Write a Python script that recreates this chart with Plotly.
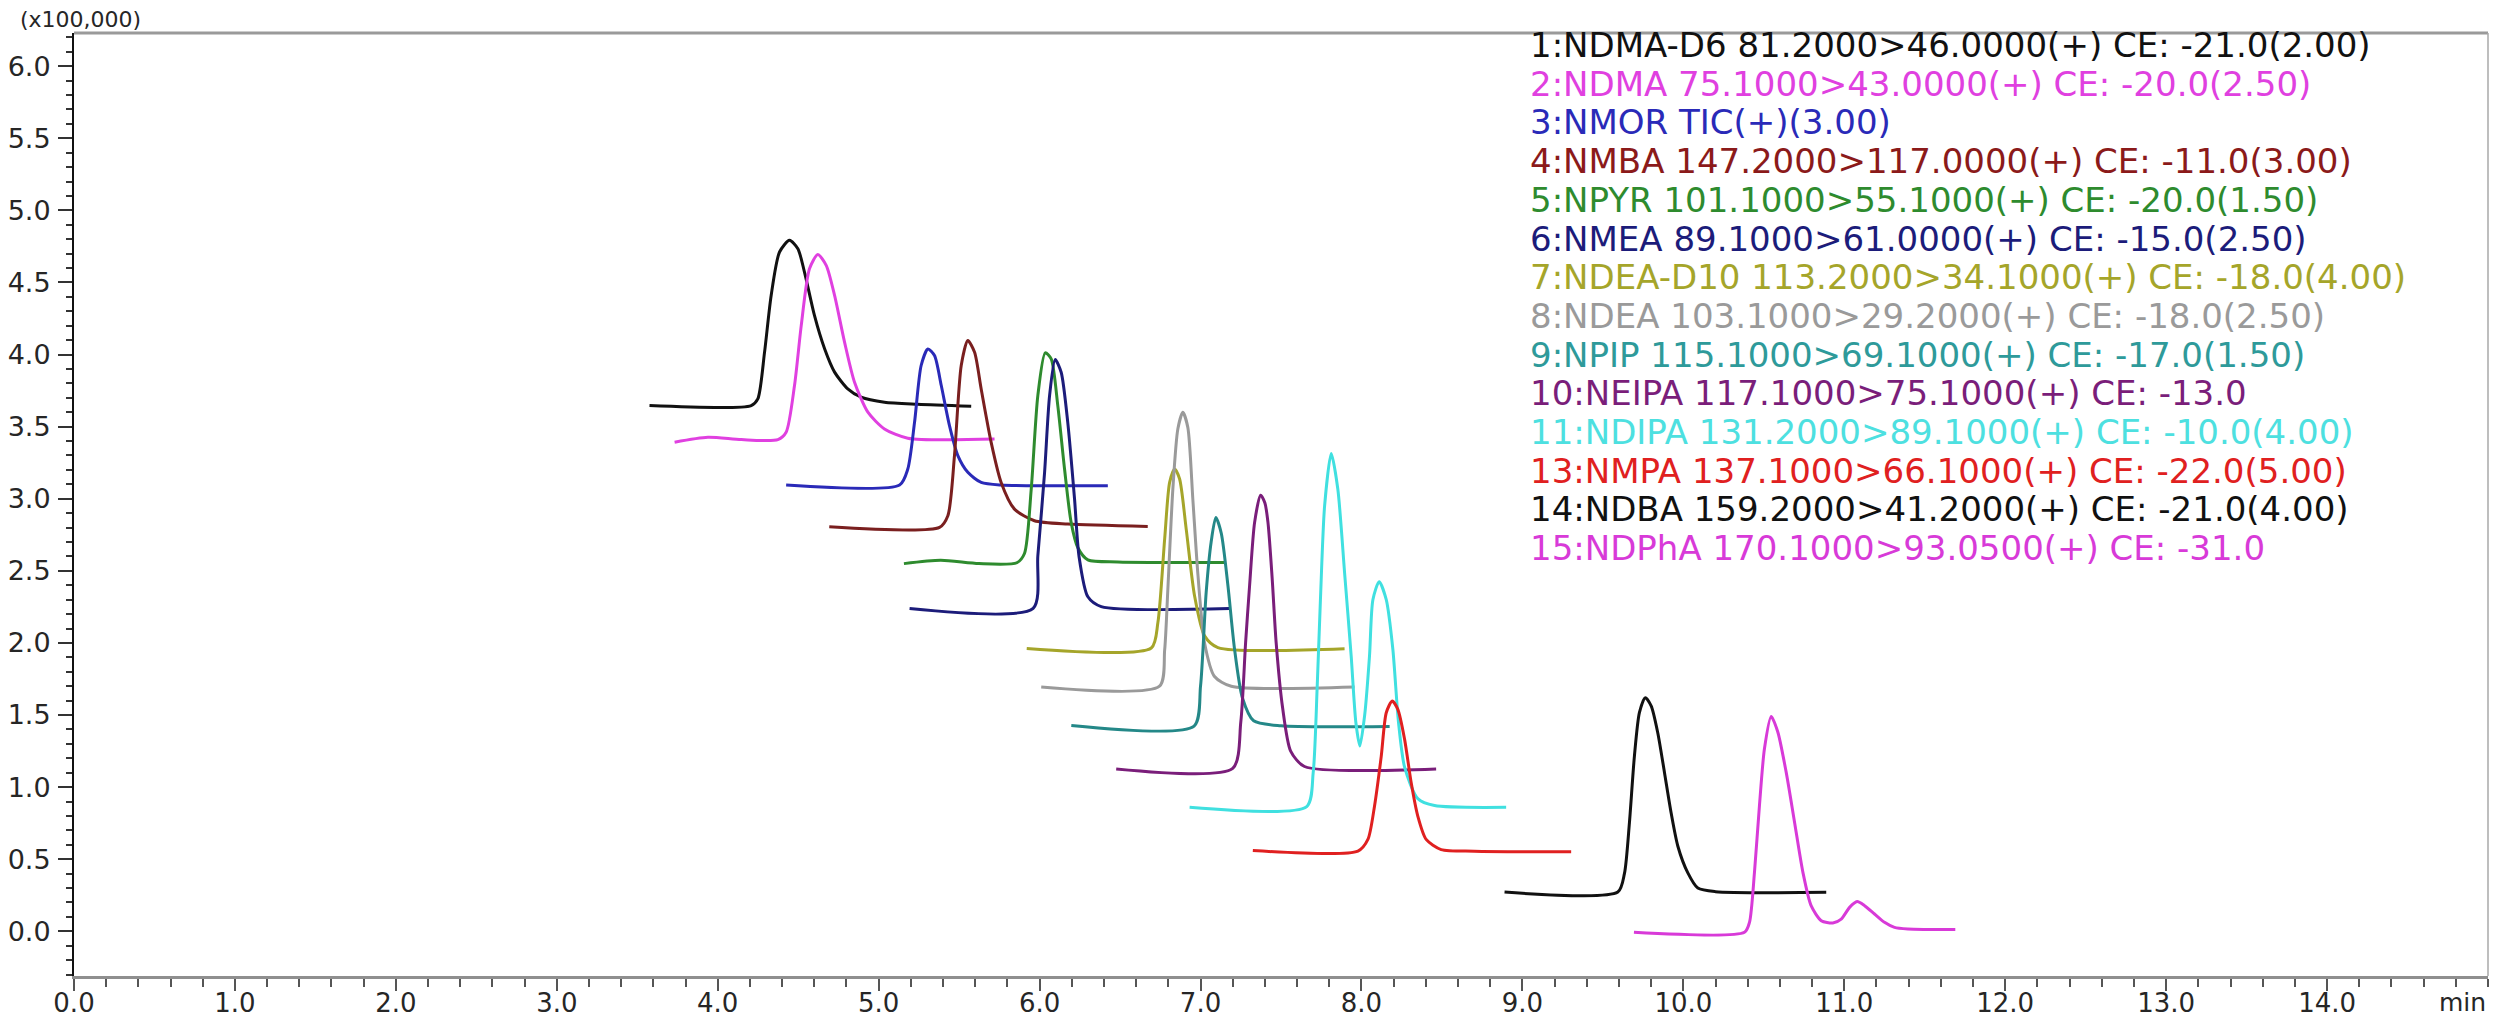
import plotly.graph_objects as go

# ---- data: retention time (min) and intensity (x100,000) ----
ndma_d6_t = [3.576, 4.208, 4.249, 4.291, 4.332, 4.384, 4.446, 4.498, 4.539, 4.601, 4.664, 4.726, 4.808, 4.891, 5.036, 5.243, 5.575]
ndma_d6_i = [3.646, 3.646, 3.692, 4.017, 4.410, 4.711, 4.792, 4.734, 4.572, 4.271, 4.040, 3.878, 3.762, 3.704, 3.669, 3.655, 3.641]

ndma_t = [3.732, 3.939, 4.146, 4.374, 4.425, 4.477, 4.519, 4.570, 4.622, 4.674, 4.726, 4.788, 4.850, 4.933, 5.036, 5.181, 5.720]
ndma_i = [3.392, 3.426, 3.410, 3.410, 3.461, 3.785, 4.202, 4.595, 4.693, 4.618, 4.410, 4.086, 3.808, 3.600, 3.484, 3.420, 3.414]

nmor_t = [4.425, 5.130, 5.181, 5.223, 5.264, 5.306, 5.347, 5.389, 5.440, 5.492, 5.554, 5.637, 5.761, 6.424]
nmor_i = [3.095, 3.095, 3.206, 3.530, 3.924, 4.039, 3.993, 3.785, 3.507, 3.299, 3.183, 3.113, 3.095, 3.090]

nmba_t = [4.693, 5.378, 5.430, 5.471, 5.513, 5.554, 5.596, 5.637, 5.699, 5.761, 5.844, 5.968, 6.175, 6.672]
nmba_i = [2.805, 2.801, 2.882, 3.299, 3.924, 4.097, 4.016, 3.761, 3.391, 3.113, 2.928, 2.847, 2.824, 2.808]

npyr_t = [5.157, 5.385, 5.623, 5.859, 5.906, 5.948, 5.989, 6.035, 6.072, 6.113, 6.155, 6.196, 6.238, 6.300, 6.487, 7.149]
npyr_i = [2.550, 2.573, 2.550, 2.556, 2.620, 3.067, 3.715, 4.012, 3.970, 3.646, 3.206, 2.836, 2.660, 2.576, 2.562, 2.558]

nmea_t = [5.192, 5.960, 5.989, 6.031, 6.062, 6.097, 6.134, 6.175, 6.217, 6.245, 6.300, 6.383, 7.180]
nmea_i = [2.238, 2.240, 2.604, 3.183, 3.715, 3.965, 3.877, 3.530, 3.000, 2.600, 2.320, 2.252, 2.238]

ndea_d10_t = [5.920, 6.694, 6.735, 6.777, 6.808, 6.839, 6.870, 6.911, 6.963, 7.025, 7.108, 7.895]
ndea_d10_i = [1.962, 1.965, 2.141, 2.720, 3.113, 3.206, 3.137, 2.789, 2.326, 2.049, 1.968, 1.960]

ndea_t = [6.010, 6.745, 6.777, 6.797, 6.828, 6.859, 6.890, 6.921, 6.952, 6.984, 7.025, 7.087, 7.191, 7.957]
ndea_i = [1.694, 1.700, 1.950, 2.373, 3.067, 3.484, 3.599, 3.495, 3.000, 2.470, 2.000, 1.767, 1.699, 1.694]

npip_t = [6.197, 6.960, 7.000, 7.035, 7.066, 7.095, 7.129, 7.170, 7.211, 7.260, 7.330, 7.500, 8.175]
npip_i = [1.428, 1.423, 1.700, 2.350, 2.700, 2.870, 2.760, 2.400, 1.960, 1.620, 1.460, 1.425, 1.421]

neipa_t = [6.476, 7.200, 7.250, 7.280, 7.305, 7.336, 7.373, 7.400, 7.419, 7.445, 7.470, 7.510, 7.560, 7.646, 8.464]
neipa_i = [1.126, 1.130, 1.450, 2.000, 2.400, 2.836, 3.025, 2.970, 2.836, 2.450, 2.000, 1.550, 1.250, 1.143, 1.126]

ndipa_t = [6.932, 7.660, 7.700, 7.725, 7.745, 7.771, 7.812, 7.853, 7.895, 7.936, 7.965, 7.990, 8.020, 8.050, 8.071, 8.110, 8.154, 8.195, 8.230, 8.268, 8.350, 8.454, 8.899]
ndipa_i = [0.860, 0.865, 1.100, 1.700, 2.300, 2.951, 3.313, 3.067, 2.488, 1.910, 1.450, 1.285, 1.500, 1.910, 2.300, 2.425, 2.300, 1.956, 1.450, 1.138, 0.920, 0.872, 0.860]

nmpa_t = [7.325, 7.978, 8.040, 8.081, 8.123, 8.154, 8.191, 8.226, 8.268, 8.309, 8.350, 8.402, 8.495, 8.702, 9.303]
nmpa_i = [0.560, 0.556, 0.637, 0.868, 1.215, 1.516, 1.597, 1.539, 1.331, 1.030, 0.799, 0.637, 0.567, 0.556, 0.551]

ndba_t = [8.889, 9.593, 9.634, 9.665, 9.696, 9.727, 9.763, 9.800, 9.841, 9.883, 9.924, 9.966, 10.028, 10.090, 10.200, 10.888]
ndba_i = [0.272, 0.272, 0.400, 0.752, 1.215, 1.516, 1.620, 1.563, 1.377, 1.100, 0.822, 0.590, 0.405, 0.300, 0.275, 0.270]

ndpha_t = [9.693, 10.380, 10.411, 10.442, 10.473, 10.504, 10.546, 10.587, 10.639, 10.691, 10.743, 10.794, 10.857, 10.929, 10.981, 11.033, 11.080, 11.126, 11.188, 11.250, 11.312, 11.395, 11.690]
ndpha_i = [-0.007, -0.007, 0.062, 0.409, 0.872, 1.266, 1.490, 1.382, 1.104, 0.757, 0.409, 0.178, 0.074, 0.058, 0.085, 0.166, 0.206, 0.178, 0.120, 0.062, 0.027, 0.016, 0.012]

channel_labels = [
    "1:NDMA-D6 81.2000>46.0000(+) CE: -21.0(2.00)",
    "2:NDMA 75.1000>43.0000(+) CE: -20.0(2.50)",
    "3:NMOR TIC(+)(3.00)",
    "4:NMBA 147.2000>117.0000(+) CE: -11.0(3.00)",
    "5:NPYR 101.1000>55.1000(+) CE: -20.0(1.50)",
    "6:NMEA 89.1000>61.0000(+) CE: -15.0(2.50)",
    "7:NDEA-D10 113.2000>34.1000(+) CE: -18.0(4.00)",
    "8:NDEA 103.1000>29.2000(+) CE: -18.0(2.50)",
    "9:NPIP 115.1000>69.1000(+) CE: -17.0(1.50)",
    "10:NEIPA 117.1000>75.1000(+) CE: -13.0",
    "11:NDIPA 131.2000>89.1000(+) CE: -10.0(4.00)",
    "13:NMPA 137.1000>66.1000(+) CE: -22.0(5.00)",
    "14:NDBA 159.2000>41.2000(+) CE: -21.0(4.00)",
    "15:NDPhA 170.1000>93.0500(+) CE: -31.0",
]

x_tick_vals = [0, 1, 2, 3, 4, 5, 6, 7, 8, 9, 10, 11, 12, 13, 14]
x_tick_text = ["0.0", "1.0", "2.0", "3.0", "4.0", "5.0", "6.0", "7.0", "8.0", "9.0", "10.0", "11.0", "12.0", "13.0", "14.0"]
y_tick_vals = [0.0, 0.5, 1.0, 1.5, 2.0, 2.5, 3.0, 3.5, 4.0, 4.5, 5.0, 5.5, 6.0]
y_tick_text = ["0.0", "0.5", "1.0", "1.5", "2.0", "2.5", "3.0", "3.5", "4.0", "4.5", "5.0", "5.5", "6.0"]

series = [
    (ndma_d6_t, ndma_d6_i), (ndma_t, ndma_i), (nmor_t, nmor_i), (nmba_t, nmba_i),
    (npyr_t, npyr_i), (nmea_t, nmea_i), (ndea_d10_t, ndea_d10_i), (ndea_t, ndea_i),
    (npip_t, npip_i), (neipa_t, neipa_i), (ndipa_t, ndipa_i), (nmpa_t, nmpa_i),
    (ndba_t, ndba_i), (ndpha_t, ndpha_i),
]

# ---- styles ----
line_colors = ["#111111", "#e040e0", "#2a2ab8", "#7a1f1f", "#2e8b2e", "#1c1c7a", "#a5a52a",
               "#9a9a9a", "#248888", "#7a1e7a", "#40e0e0", "#e02020", "#111111", "#d83ad8"]
text_colors = ["#111111", "#e040e0", "#2a2ab8", "#8b1a1a", "#2e8b2e", "#1c1c7a", "#a5a52a",
               "#9a9a9a", "#2e9a9a", "#7a1e7a", "#4de0e0", "#e02020", "#111111", "#d83ad8"]

W, H = 2506, 1016
ML, MR, MT, MB = 66, 26, 25, 48
plot_w = W - ML - MR
plot_h = H - MT - MB

fig = go.Figure()
for (t, i), name, col in zip(series, channel_labels, line_colors):
    fig.add_trace(go.Scatter(x=t, y=i, mode="lines", name=name,
                             line=dict(color=col, width=3, shape="spline", smoothing=0.7),
                             showlegend=False, hoverinfo="skip"))

fig.update_xaxes(
    range=[0, 15], showgrid=False, zeroline=False,
    showline=True, linecolor="#8f8f8f", linewidth=3,
    tickmode="array", tickvals=x_tick_vals, ticktext=x_tick_text,
    ticks="outside", ticklen=12, tickwidth=1.5, tickcolor="#555555",
    tickfont=dict(family="DejaVu Sans", size=26, color="#262626"), ticklabelstandoff=-10,
    minor=dict(tickmode="linear", tick0=0, dtick=0.2, ticks="outside",
               ticklen=8, tickwidth=1.5, tickcolor="#555555", showgrid=False),
)
fig.update_yaxes(
    range=[-0.31, 6.23], showgrid=False, zeroline=False,
    showline=True, linecolor="#111111", linewidth=2,
    tickmode="array", tickvals=y_tick_vals, ticktext=y_tick_text,
    ticks="outside", ticklen=14, tickwidth=1.5, tickcolor="#333333",
    tickfont=dict(family="DejaVu Sans", size=27, color="#262626"), ticklabelstandoff=2,
    minor=dict(tickmode="linear", tick0=0, dtick=0.1, ticks="outside",
               ticklen=6, tickwidth=1.5, tickcolor="#333333", showgrid=False),
)

# frame: top and right borders
fig.add_shape(type="line", xref="paper", yref="paper", x0=0, x1=1, y0=1, y1=1,
              line=dict(color="#9a9a9a", width=3))
fig.add_shape(type="line", xref="paper", yref="paper", x0=1, x1=1, y0=0, y1=1,
              line=dict(color="#a8a8a8", width=1.5))

annotations = []
annotations.append(dict(text="(x100,000)", xref="paper", yref="paper",
                        x=(10 - ML) / plot_w, y=(H - MB - 12) / plot_h,
                        xanchor="left", yanchor="middle", showarrow=False,
                        font=dict(family="DejaVu Sans", size=22, color="#262626")))
annotations.append(dict(text="min", xref="paper", yref="paper",
                        x=1, y=(H - MB - 994) / plot_h,
                        xanchor="right", yanchor="middle", showarrow=False,
                        font=dict(family="DejaVu Sans", size=25, color="#262626")))

legend_x = (1520 - ML) / plot_w
for k, (label, col) in enumerate(zip(channel_labels, text_colors)):
    ypix = 37.0 + 38.7 * k
    annotations.append(dict(text=label, xref="paper", yref="paper",
                            x=legend_x, y=(H - MB - ypix) / plot_h,
                            xanchor="left", yanchor="middle", showarrow=False,
                            font=dict(family="DejaVu Sans", size=34, color=col)))

fig.update_layout(
    width=W, height=H,
    margin=dict(l=ML, r=MR, t=MT, b=MB, autoexpand=False),
    plot_bgcolor="white", paper_bgcolor="white",
    annotations=annotations,
    showlegend=False,
)

fig.write_html("out.html")
